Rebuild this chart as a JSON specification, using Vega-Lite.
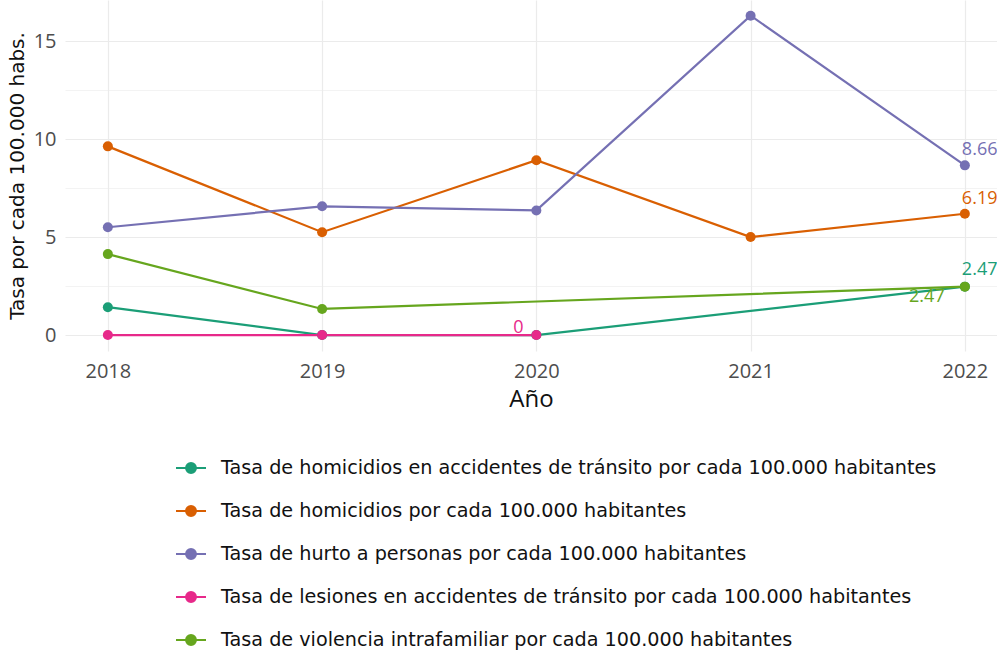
{
  "$schema": "https://vega.github.io/schema/vega-lite/v6.json",
  "width": 932,
  "height": 351,
  "autosize": {"type": "none"},
  "padding": {"left": 65, "top": 0, "right": 0, "bottom": 299},
  "background": "white",
  "config": {"view": {"stroke": null}, "font": "DejaVu Sans"},
  "data": {"values": [
    {"serie": "Tasa de homicidios en accidentes de tránsito por cada 100.000 habitantes", "anio": 2018, "valor": 1.42},
    {"serie": "Tasa de homicidios en accidentes de tránsito por cada 100.000 habitantes", "anio": 2019, "valor": 0},
    {"serie": "Tasa de homicidios en accidentes de tránsito por cada 100.000 habitantes", "anio": 2020, "valor": 0},
    {"serie": "Tasa de homicidios en accidentes de tránsito por cada 100.000 habitantes", "anio": 2022, "valor": 2.47},
    {"serie": "Tasa de homicidios por cada 100.000 habitantes", "anio": 2018, "valor": 9.63},
    {"serie": "Tasa de homicidios por cada 100.000 habitantes", "anio": 2019, "valor": 5.25},
    {"serie": "Tasa de homicidios por cada 100.000 habitantes", "anio": 2020, "valor": 8.92},
    {"serie": "Tasa de homicidios por cada 100.000 habitantes", "anio": 2021, "valor": 5.0},
    {"serie": "Tasa de homicidios por cada 100.000 habitantes", "anio": 2022, "valor": 6.19},
    {"serie": "Tasa de hurto a personas por cada 100.000 habitantes", "anio": 2018, "valor": 5.5},
    {"serie": "Tasa de hurto a personas por cada 100.000 habitantes", "anio": 2019, "valor": 6.57},
    {"serie": "Tasa de hurto a personas por cada 100.000 habitantes", "anio": 2020, "valor": 6.36},
    {"serie": "Tasa de hurto a personas por cada 100.000 habitantes", "anio": 2021, "valor": 16.3},
    {"serie": "Tasa de hurto a personas por cada 100.000 habitantes", "anio": 2022, "valor": 8.66},
    {"serie": "Tasa de lesiones en accidentes de tránsito por cada 100.000 habitantes", "anio": 2018, "valor": 0},
    {"serie": "Tasa de lesiones en accidentes de tránsito por cada 100.000 habitantes", "anio": 2019, "valor": 0},
    {"serie": "Tasa de lesiones en accidentes de tránsito por cada 100.000 habitantes", "anio": 2020, "valor": 0},
    {"serie": "Tasa de violencia intrafamiliar por cada 100.000 habitantes", "anio": 2018, "valor": 4.13},
    {"serie": "Tasa de violencia intrafamiliar por cada 100.000 habitantes", "anio": 2019, "valor": 1.33},
    {"serie": "Tasa de violencia intrafamiliar por cada 100.000 habitantes", "anio": 2022, "valor": 2.47}
  ]},
  "encoding": {
    "x": {"field": "anio", "type": "quantitative",
      "scale": {"domain": [2017.8, 2022.15], "nice": false, "zero": false},
      "axis": {"values": [2018, 2019, 2020, 2021, 2022], "format": "d", "title": "Año",
        "domain": false, "ticks": false, "gridColor": "#EBEBEB", "gridWidth": 1.2,
        "labelFont": "Open Sans", "labelFontSize": 20, "labelColor": "#4D4D4D", "labelPadding": 10,
        "titleFont": "Open Sans", "titleFontSize": 24, "titleFontWeight": "normal", "titleColor": "#111111", "titlePadding": 6}},
    "y": {"field": "valor", "type": "quantitative",
      "scale": {"domain": [-0.815, 17.1], "nice": false, "zero": false},
      "axis": {"values": [0, 2.5, 5, 7.5, 10, 12.5, 15], "labelExpr": "datum.value % 5 === 0 ? datum.label : ''",
        "title": "Tasa por cada 100.000 habs.", "domain": false, "ticks": false,
        "gridColor": "#EBEBEB", "gridWidth": {"condition": {"test": "datum.value % 5 !== 0", "value": 0.6}, "value": 1.2},
        "labelFont": "Open Sans", "labelFontSize": 20, "labelColor": "#4D4D4D", "labelPadding": 9,
        "titleFont": "DejaVu Sans", "titleFontSize": 20, "titleFontWeight": "normal", "titleColor": "#111111", "titlePadding": 6}},
    "color": {"field": "serie", "type": "nominal",
      "scale": {"range": ["#1B9E77", "#D95F02", "#7570B3", "#E7298A", "#66A61E"]},
      "legend": {"title": null, "orient": "none", "legendX": 110, "legendY": 452, "direction": "vertical",
        "symbolType": "M-1,0H1M-0.33,0A0.33,0.33,0,1,1,0.33,0A0.33,0.33,0,1,1,-0.33,0Z",
        "symbolSize": 900, "symbolStrokeWidth": 2, "labelFont": "DejaVu Sans", "labelFontSize": 19.2,
        "labelColor": "#111111", "labelOffset": 14, "rowPadding": 16, "labelLimit": 900}}
  },
  "layer": [
    {"mark": {"type": "line", "strokeWidth": 2.2}},
    {"mark": {"type": "point", "filled": true, "size": 100, "opacity": 1}},
    {"transform": [{"filter": "datum.anio === 2022 && (indexof(datum.serie, 'hurto') >= 0 || datum.serie === 'Tasa de homicidios por cada 100.000 habitantes')"}],
     "mark": {"type": "text", "align": "left", "dx": -3, "dy": -15, "font": "Open Sans", "fontSize": 18},
     "encoding": {"text": {"field": "valor", "type": "quantitative", "format": ".2f"}}},
    {"transform": [{"filter": "datum.anio === 2022 && indexof(datum.serie, 'homicidios en accidentes') >= 0"}],
     "mark": {"type": "text", "align": "left", "dx": -3, "dy": -17, "font": "Open Sans", "fontSize": 18},
     "encoding": {"text": {"field": "valor", "type": "quantitative", "format": ".2f"}}},
    {"transform": [{"filter": "datum.anio === 2022 && indexof(datum.serie, 'violencia') >= 0"}],
     "mark": {"type": "text", "align": "center", "dx": -38, "dy": 10, "font": "Open Sans", "fontSize": 18},
     "encoding": {"text": {"field": "valor", "type": "quantitative", "format": ".2f"}}},
    {"transform": [{"filter": "datum.anio === 2020 && indexof(datum.serie, 'lesiones') >= 0"}],
     "mark": {"type": "text", "align": "center", "dx": -18, "dy": -7, "font": "Open Sans", "fontSize": 18},
     "encoding": {"text": {"field": "valor", "type": "quantitative", "format": "d"}}}
  ]
}
